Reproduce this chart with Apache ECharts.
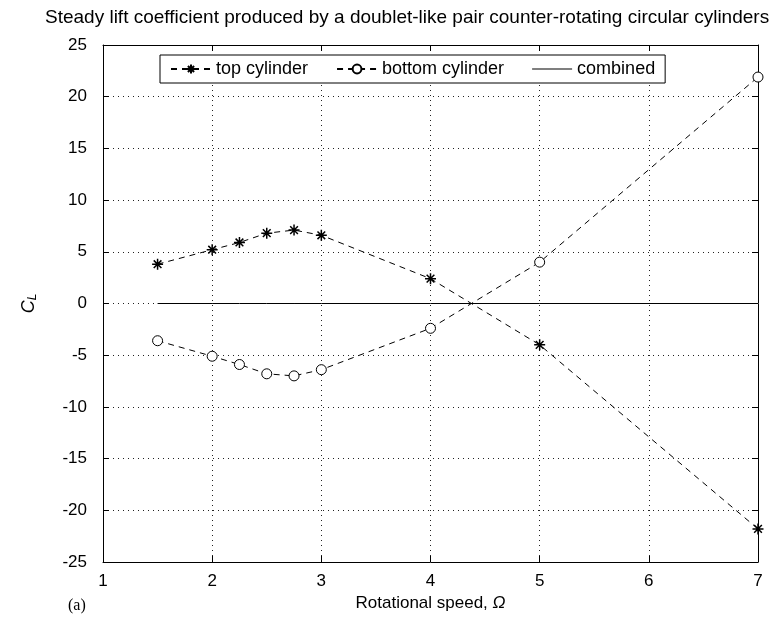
<!DOCTYPE html>
<html>
<head>
<meta charset="utf-8">
<script src="https://cdn.jsdelivr.net/npm/echarts@6/dist/echarts.min.js"></script>
<style>html,body{margin:0;padding:0;background:#fff;}#c{width:779px;height:626px;}</style>
</head>
<body>
<div id="c"></div>
<script>
const omega = [1.5, 2, 2.25, 2.5, 2.75, 3, 4, 5, 7];
const topCyl = [3.8, 5.2, 5.9, 6.8, 7.1, 6.6, 2.4, -4.0, -21.8];
const bottomCyl = [-3.6, -5.1, -5.9, -6.8, -7.0, -6.4, -2.4, 4.0, 21.9];
const combined = [0, 0, 0, 0, 0, 0, 0, 0, 0];
const xTicks = [1, 2, 3, 4, 5, 6, 7];
const yTicks = [-25, -20, -15, -10, -5, 0, 5, 10, 15, 20, 25];
const seriesNames = ['top cylinder', 'bottom cylinder', 'combined'];
const titleText = 'Steady lift coefficient produced by a doublet-like pair counter-rotating circular cylinders';

const pairs = (ys) => omega.map((x, i) => [x, ys[i]]);
const FONT = 'Liberation Sans, Arial, sans-serif';
const star = 'path://M0,5L10,5M5,0L5,10M1.5,1.5L8.5,8.5M8.5,1.5L1.5,8.5';
const thinLine = 'path://M0,0L40,0L40,1L0,1Z';

const chart = echarts.init(document.getElementById('c'), null, {renderer: 'canvas'});
chart.setOption({
  animation: false,
  backgroundColor: '#fff',
  title: {
    text: titleText,
    left: 40, top: 3,
    textStyle: {fontFamily: FONT, fontSize: 19, fontWeight: 'normal', color: '#000'}
  },
  grid: {left: 103, right: 21, top: 45, bottom: 64},
  legend: {
    data: [seriesNames[0], seriesNames[1], {name: seriesNames[2], icon: thinLine}],
    left: 160, top: 55, width: 500,
    backgroundColor: '#fff',
    borderColor: '#000', borderWidth: 1, borderRadius: 0,
    padding: [5, 10, 5, 10],
    itemGap: 28, itemWidth: 40, itemHeight: 11,
    textStyle: {fontFamily: FONT, fontSize: 18, color: '#000'}
  },
  xAxis: [{
    type: 'value', min: xTicks[0], max: xTicks[xTicks.length - 1], interval: 1,
    name: 'Rotational speed, {i|Ω}', nameLocation: 'middle', nameGap: 28,
    nameTextStyle: {fontFamily: FONT, fontSize: 17, color: '#000',
      rich: {i: {fontFamily: FONT, fontSize: 17, fontStyle: 'italic', color: '#000'}}},
    axisLine: {show: true, onZero: false, lineStyle: {color: '#000', width: 1}},
    axisTick: {inside: true, length: 6, lineStyle: {color: '#000'}},
    axisLabel: {fontFamily: FONT, fontSize: 17, color: '#000', margin: 11},
    splitLine: {show: true, lineStyle: {color: '#222', type: [1, 4], width: 1}}
  }, {
    type: 'value', position: 'top', min: xTicks[0], max: xTicks[xTicks.length - 1], interval: 1,
    axisLine: {show: true, onZero: false, lineStyle: {color: '#000', width: 1}},
    axisTick: {inside: true, length: 6, lineStyle: {color: '#000'}},
    axisLabel: {show: false}, splitLine: {show: false}
  }],
  yAxis: [{
    type: 'value', min: yTicks[0], max: yTicks[yTicks.length - 1], interval: 5,
    name: '{c|C}{l|L}', nameLocation: 'middle', nameGap: 64, nameRotate: 90,
    nameTextStyle: {rich: {
      c: {fontFamily: FONT, fontSize: 18, fontStyle: 'italic', color: '#000'},
      l: {fontFamily: FONT, fontSize: 12, fontStyle: 'italic', color: '#000', verticalAlign: 'bottom', padding: [9, 0, 0, 0]}
    }},
    axisLine: {show: true, onZero: false, lineStyle: {color: '#000', width: 1}},
    axisTick: {inside: true, length: 6, lineStyle: {color: '#000'}},
    axisLabel: {fontFamily: FONT, fontSize: 17, color: '#000', margin: 16},
    splitLine: {show: true, lineStyle: {color: '#222', type: [1, 4], width: 1}}
  }, {
    type: 'value', position: 'right', min: yTicks[0], max: yTicks[yTicks.length - 1], interval: 5,
    axisLine: {show: true, onZero: false, lineStyle: {color: '#000', width: 1}},
    axisTick: {inside: true, length: 6, lineStyle: {color: '#000'}},
    axisLabel: {show: false}, splitLine: {show: false}
  }],
  graphic: [{
    type: 'text', left: 68, top: 598,
    style: {text: '(a)', font: '16px "Liberation Serif", "Times New Roman", serif', fill: '#000'}
  }],
  series: [{
    name: seriesNames[0], type: 'line', data: pairs(topCyl),
    symbol: star, symbolSize: 11, showAllSymbol: true,
    itemStyle: {color: '#000', borderColor: '#000', borderWidth: 1.5},
    lineStyle: {color: '#000', width: 1, type: [6, 5]}, z: 3
  }, {
    name: seriesNames[1], type: 'line', data: pairs(bottomCyl),
    symbol: 'circle', symbolSize: 10, showAllSymbol: true,
    itemStyle: {color: '#fff', borderColor: '#000', borderWidth: 1},
    lineStyle: {color: '#000', width: 1, type: [6, 5]}, z: 3
  }, {
    name: seriesNames[2], type: 'line', data: pairs(combined),
    symbol: 'none', showSymbol: false,
    itemStyle: {color: '#000'},
    lineStyle: {color: '#000', width: 1, type: 'solid'}, z: 2
  }]
});
</script>
</body>
</html>
